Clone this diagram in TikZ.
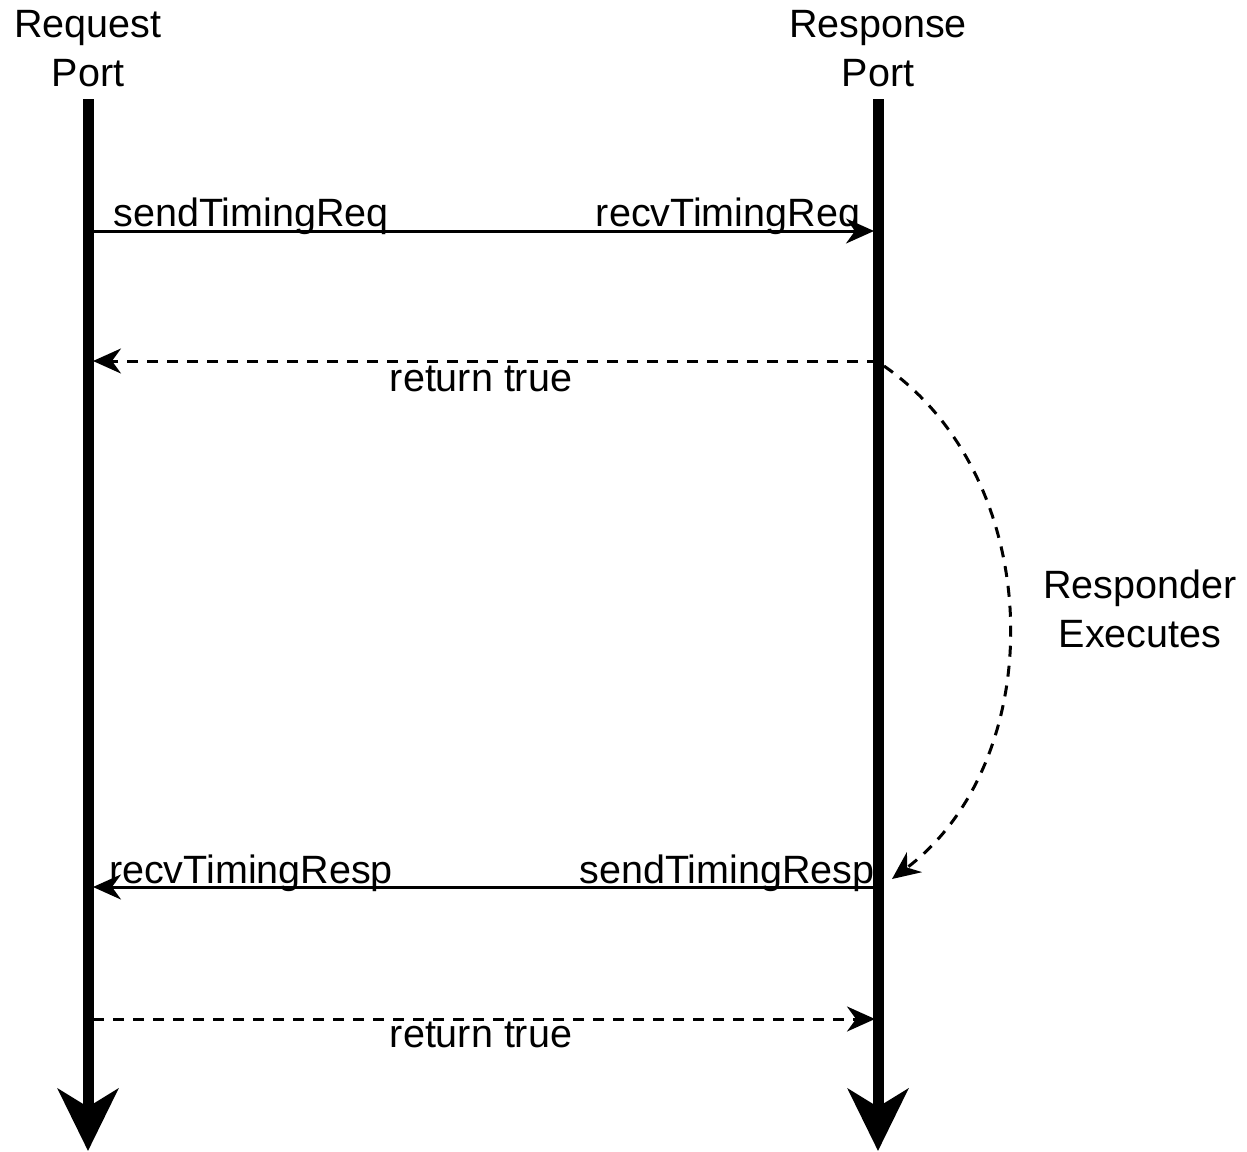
\documentclass[tikz,border=0pt]{standalone}
\usepackage{fontspec}
\setmainfont{Liberation Sans}
\usetikzlibrary{arrows.meta}
\begin{document}
\begin{tikzpicture}[x=1pt,y=-1pt,
  lbl/.style={font=\fontsize{39.5}{48}\selectfont, inner sep=0pt, anchor=base},
  lifeline/.style={line width=11pt, -{Stealth[length=62pt,width=60pt,inset=18pt]}},
  msg/.style={line width=3pt, -{Stealth[length=28pt,width=25pt,inset=9pt]}},
  ret/.style={msg, dash pattern=on 11pt off 9pt}]
\useasboundingbox (0,0) rectangle (1247,1151);
% titles
\node[lbl] (reqT1) at (88,37) {Request};
\node[lbl] (reqT2) at (88,86) {Port};
\node[lbl] (resT1) at (878,37) {Response};
\node[lbl] (resT2) at (878,86) {Port};
% lifelines
\coordinate (lTop) at (88,99);
\coordinate (lEnd) at (88,1151);
\coordinate (rTop) at (878,99);
\coordinate (rEnd) at (878,1151);
\draw[lifeline] (lTop) -- (lEnd);
\draw[lifeline] (rTop) -- (rEnd);
% message endpoints
\coordinate (m1a) at (93,231);  \coordinate (m1b) at (874,231);
\coordinate (m2a) at (878,361); \coordinate (m2b) at (93,361);
\coordinate (m3a) at (878,887); \coordinate (m3b) at (93,887);
\coordinate (m4a) at (93,1019); \coordinate (m4b) at (875,1019);
\coordinate (c1) at (884,366);  \coordinate (c2) at (892,879);
\draw[msg] (m1a) -- (m1b);
\draw[ret] (m2a) -- (m2b);
\draw[msg] (m3a) -- (m3b);
\draw[ret] (m4a) -- (m4b);
\draw[ret] (c1) .. controls (1048,480) and (1050,760) .. (c2);
% labels
\node[lbl] (l1) at (251,226) {sendTimingReq};
\node[lbl] (l2) at (728,226) {recvTimingReq};
\node[lbl] (l3) at (481,391) {return true};
\node[lbl] (l4) at (251,883) {recvTimingResp};
\node[lbl] (l5) at (727,883) {sendTimingResp};
\node[lbl] (l6) at (481,1047) {return true};
\node[lbl] (l7) at (1140,598) {Responder};
\node[lbl] (l8) at (1140,647) {Executes};
\end{tikzpicture}
\end{document}
